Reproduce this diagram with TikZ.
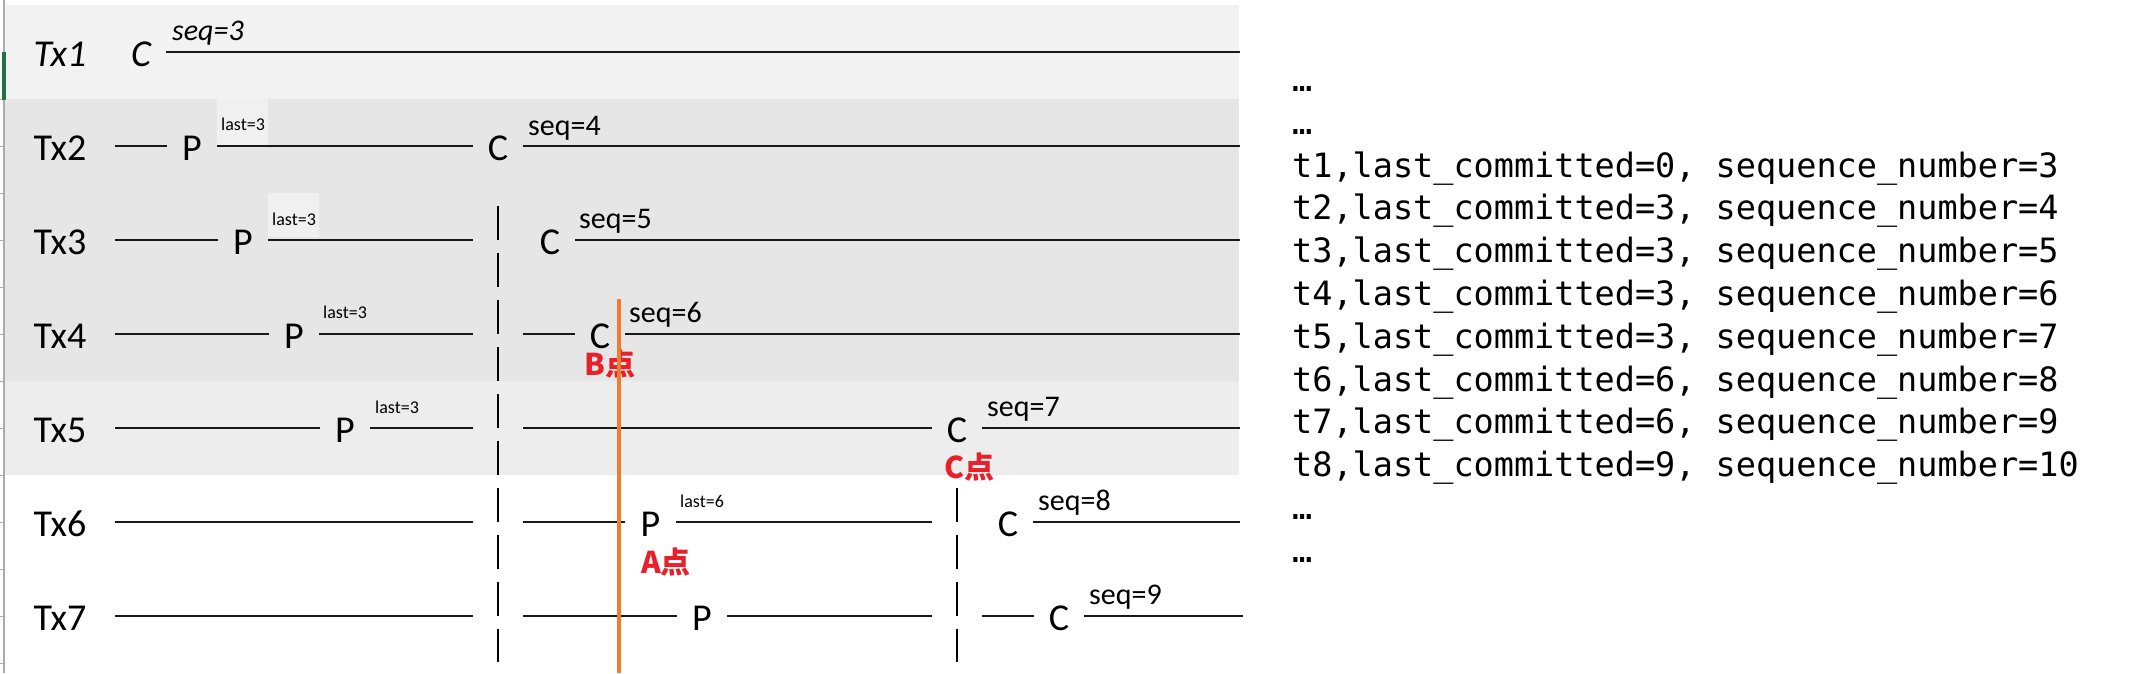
\documentclass[tikz,border=0pt]{standalone}
\usepackage{fontspec}
\newfontfamily\lab{Carlito}
\newfontfamily\mono{DejaVu Sans Mono}
\newfontfamily\cjk{Noto Sans CJK SC}
\definecolor{bandA}{HTML}{F2F2F2}
\definecolor{bandB}{HTML}{E6E6E6}
\definecolor{bandC}{HTML}{EDEDED}
\definecolor{patchgray}{HTML}{F0F0F0}
\definecolor{xlgreen}{HTML}{217346}
\definecolor{orangeL}{HTML}{ED7D31}
\definecolor{redL}{HTML}{E8202A}
\definecolor{gridgray}{HTML}{ABABAB}
\begin{document}
\begin{tikzpicture}[x=1pt,y=-1pt,
  ev/.style={font=\lab\fontsize{38}{40}\selectfont, inner sep=0pt, minimum width=50pt, text height=29pt, text depth=0pt, anchor=center},
  evi/.style={ev, font=\lab\itshape\fontsize{38}{40}\selectfont},
  txlab/.style={ev, minimum width=0pt},
  txlabi/.style={evi, minimum width=0pt},
  seqlab/.style={font=\lab\fontsize{30}{32}\selectfont, inner sep=0pt, anchor=base west},
  seqlabi/.style={seqlab, font=\lab\itshape\fontsize{30}{32}\selectfont},
  lastlab/.style={font=\lab\fontsize{18}{20}\selectfont, inner sep=0pt, anchor=base west},
  redlab/.style={font=\cjk\bfseries\fontsize{30}{32}\selectfont, text=redL, inner sep=0pt},
  monotext/.style={font=\mono\fontsize{33.5}{40}\selectfont, inner sep=0pt, anchor=base west},
  tline/.style={line width=1.4pt, draw=black!90},
  vdash/.style={line width=2pt, draw=black, dash pattern=on 34pt off 13pt},
  hiline/.style={line width=4pt, draw=orangeL}
]
\useasboundingbox (0,0) rectangle (2135,673);
\fill[white] (0,0) rectangle (2135,673);
% bands
\fill[bandA] (5,5) rectangle (1239,99);
\fill[bandB] (5,99) rectangle (1239,381);
\fill[bandC] (5,381) rectangle (1239,475);
\fill[patchgray] (217,99) rectangle (268,145);
\fill[patchgray] (268,193) rectangle (319,237);
% left sheet border
\draw[gridgray, line width=1.2pt] (4,0) -- (4,673);
\foreach \k in {1,...,13} \draw[gridgray, line width=1pt] (0,{52+47*\k}) -- (4,{52+47*\k});
\fill[xlgreen] (1.5,52) rectangle (5.5,100);

% Row 1
\node[txlabi] (tx1) at (60,52) {Tx1};
\node[evi] (c1) at (141,52) {C};
\coordinate (e1) at (1240,52);
\draw[tline] (c1.east) -- (e1);
\node[seqlabi] (s1) at (172,40) {seq=3};

% Row 2
\node[txlab] (tx2) at (60,146) {Tx2};
\coordinate (b2) at (115,146);
\node[ev] (p2) at (192,146) {P};
\node[ev] (c2) at (498,146) {C};
\coordinate (e2) at (1240,146);
\draw[tline] (b2) -- (p2.west) (p2.east) -- (c2.west) (c2.east) -- (e2);
\node[lastlab] (l2) at (221,130) {last=3};
\node[seqlab] (s2) at (528,135) {seq=4};

% Row 3
\node[txlab] (tx3) at (60,240) {Tx3};
\coordinate (b3) at (115,240);
\node[ev] (p3) at (243,240) {P};
\coordinate (g3) at (473,240);
\node[ev] (c3) at (550,240) {C};
\coordinate (e3) at (1240,240);
\draw[tline] (b3) -- (p3.west) (p3.east) -- (g3) (c3.east) -- (e3);
\node[lastlab] (l3) at (272,225) {last=3};
\node[seqlab] (s3) at (579,228) {seq=5};

% Row 4
\node[txlab] (tx4) at (60,334) {Tx4};
\coordinate (b4) at (115,334);
\node[ev] (p4) at (294,334) {P};
\coordinate (g4) at (473,334);
\coordinate (h4) at (523,334);
\node[ev] (c4) at (600,334) {C};
\coordinate (e4) at (1240,334);
\draw[tline] (b4) -- (p4.west) (p4.east) -- (g4) (h4) -- (c4.west) (c4.east) -- (e4);
\node[lastlab] (l4) at (323,318) {last=3};
\node[seqlab] (s4) at (629,322) {seq=6};

% Row 5
\node[txlab] (tx5) at (60,428) {Tx5};
\coordinate (b5) at (115,428);
\node[ev] (p5) at (345,428) {P};
\coordinate (g5) at (473,428);
\coordinate (h5) at (523,428);
\node[ev] (c5) at (957,428) {C};
\coordinate (e5) at (1240,428);
\draw[tline] (b5) -- (p5.west) (p5.east) -- (g5) (h5) -- (c5.west) (c5.east) -- (e5);
\node[lastlab] (l5) at (375,413) {last=3};
\node[seqlab] (s5) at (987,416) {seq=7};

% Row 6
\node[txlab] (tx6) at (60,522) {Tx6};
\coordinate (b6) at (115,522);
\coordinate (g6) at (473,522);
\coordinate (h6) at (523,522);
\node[ev] (p6) at (650.5,522) {P};
\coordinate (g6b) at (932,522);
\node[ev] (c6) at (1008,522) {C};
\coordinate (e6) at (1240,522);
\draw[tline] (b6) -- (g6) (h6) -- (p6.west) (p6.east) -- (g6b) (c6.east) -- (e6);
\node[lastlab] (l6) at (680,507) {last=6};
\node[seqlab] (s6) at (1038,510) {seq=8};

% Row 7
\node[txlab] (tx7) at (60,616) {Tx7};
\coordinate (b7) at (115,616);
\coordinate (g7) at (473,616);
\coordinate (h7) at (523,616);
\node[ev] (p7) at (702,616) {P};
\coordinate (g7b) at (932,616);
\coordinate (h7b) at (982,616);
\node[ev] (c7) at (1059,616) {C};
\coordinate (e7) at (1243,616);
\draw[tline] (b7) -- (g7) (h7) -- (p7.west) (p7.east) -- (g7b) (h7b) -- (c7.west) (c7.east) -- (e7);
\node[seqlab] (s7) at (1089,604) {seq=9};

% dashed separators
\coordinate (d1a) at (498,206);
\coordinate (d1b) at (498,662);
\coordinate (d2a) at (957,488);
\coordinate (d2b) at (957,662);
\draw[vdash] (d1a) -- (d1b);
\draw[vdash] (d2a) -- (d2b);

% red point labels
\node[redlab] (ptB) at (610,364) {B点};
\node[redlab] (ptC) at (969,467) {C点};
\node[redlab] (ptA) at (666,562) {A点};

% orange marker line
\coordinate (o1) at (619,299);
\coordinate (o2) at (619,673);
\draw[hiline] (o1) -- (o2);

% right-hand log
\node[monotext] (m1) at (1292,91) {…};
\node[monotext] (m2) at (1292,134) {…};
\node[monotext] (t1) at (1292,177) {t1,last\_committed=0, sequence\_number=3};
\node[monotext] (t2) at (1292,219) {t2,last\_committed=3, sequence\_number=4};
\node[monotext] (t3) at (1292,262) {t3,last\_committed=3, sequence\_number=5};
\node[monotext] (t4) at (1292,305) {t4,last\_committed=3, sequence\_number=6};
\node[monotext] (t5) at (1292,348) {t5,last\_committed=3, sequence\_number=7};
\node[monotext] (t6) at (1292,391) {t6,last\_committed=6, sequence\_number=8};
\node[monotext] (t7) at (1292,433) {t7,last\_committed=6, sequence\_number=9};
\node[monotext] (t8) at (1292,476) {t8,last\_committed=9, sequence\_number=10};
\node[monotext] (m3) at (1292,519) {…};
\node[monotext] (m4) at (1292,562) {…};
\end{tikzpicture}
\end{document}
